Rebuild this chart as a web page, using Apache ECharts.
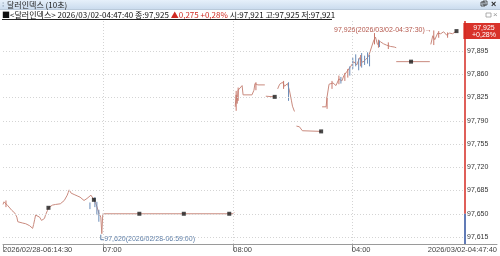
<!DOCTYPE html>
<html><head><meta charset="utf-8">
<script src="https://cdn.jsdelivr.net/npm/echarts@6/dist/echarts.min.js"></script>
<style>html,body{margin:0;padding:0;background:#fff}#c{width:500px;height:256px}</style>
</head><body><div id="c"></div>
<script>
// ---- data (x = bar index, price) ----
const mainIdx = [0,1,2,3,5,7,9,12,14,15,17,20,23,25,27,29,30,31,32,33,35,37,39,40,42,43,45,46,48,50,53,55,58,60,62,65,66,67,69,70,72,75,78,80,82,83,85,87,89,90,92,94,95,97,99,100,101,138,183,229,233,234,234,
 235,236,237,238,240,242,243,252,254,255,257,258,265,265,266,275,275,278,280,283,285,288,290,292,293,295,295,297,300,303,322,322,
 323,327,328,330,332,334,337,340,343,345,348,350,352,355,358,361,364,367,370,372,375,377,379,382,385,388,392,396,398,398,398,432,432,
 433,435,437,440,443,446,449,452,455,459];
const mainPrice = [97.664,97.668,97.667,97.669,97.662,97.659,97.655,97.651,97.645,97.638,97.637,97.636,97.635,97.634,97.632,97.630,97.628,97.634,97.641,97.648,97.649,97.645,97.640,97.638,97.643,97.648,97.655,97.659,97.662,97.663,97.664,97.666,97.665,97.668,97.670,97.678,97.682,97.686,97.681,97.678,97.679,97.677,97.675,97.673,97.670,97.668,97.673,97.676,97.678,97.677,97.671,97.665,97.661,97.651,97.645,97.620,97.650,97.650,97.650,97.650,97.650,97.652,null,
 97.811,97.829,97.816,97.836,97.839,97.843,97.829,97.829,97.836,97.846,97.845,97.844,97.844,null,97.827,97.826,null,97.838,97.845,97.848,97.842,97.846,97.835,97.820,97.812,97.804,null,97.782,97.781,97.775,97.774,null,
 97.811,97.811,97.826,97.845,97.842,97.847,97.843,97.853,97.850,97.858,97.864,97.862,97.872,97.879,97.874,97.885,97.878,97.882,97.887,97.884,97.910,97.916,97.905,97.909,97.906,97.904,97.902,97.901,97.900,null,97.879,97.879,null,
 97.905,97.918,97.912,97.922,97.921,97.924,97.919,97.922,97.921,97.925];
const markIdx = [46,92,138,183,229,275,322,413,459];
const markPrice = [97.659,97.671,97.650,97.650,97.650,97.826,97.774,97.879,97.925];
const blueWickIdx = [88,93,95,97,289,342,351,354,357,360,363,366,369,371,381];
const blueWickHigh = [97.667,97.675,97.668,97.656,97.848,97.856,97.872,97.885,97.890,97.884,97.892,97.888,97.893,97.889,97.911];
const blueWickLow = [97.657,97.660,97.648,97.638,97.820,97.846,97.858,97.868,97.872,97.866,97.870,97.874,97.876,97.872,97.901];
const redWickIdx = [3,236,238,256,284,328,333,340,346,349,362,376,380,390,436,441,450];
const redWickHigh = [97.670,97.835,97.840,97.848,97.850,97.826,97.850,97.858,97.862,97.868,97.889,97.922,97.912,97.908,97.926,97.925,97.923];
const redWickLow = [97.660,97.805,97.820,97.836,97.838,97.808,97.838,97.845,97.850,97.855,97.872,97.905,97.900,97.898,97.904,97.915,97.915];
const yTicks = [97.615,97.650,97.685,97.720,97.755,97.790,97.825,97.860,97.895];
const xTickIdx = [0,101,233,353,500];
const xTickLabels = ['2026/02/28-06:14:30','07:00','08:00','04:00','2026/03/02-04:47:40'];
const prevClose = 97.650;
const lastPrice = 97.925, changeAbs = 0.275, changePct = 0.28;
const openPrice = 97.921, highPrice = 97.925, lowPrice = 97.921;
const lastTime = '2026/03/02-04:47:40';
const hiIdx = 436, hiVal = 97.926, hiTime = '2026/03/02-04:37:30';
const loIdx = 100, loVal = 97.620, loTime = '2026/02/28-06:59:00';

// ---- chart ----
const Y_MIN = 97.6045, Y_MAX = 97.9402, PLOT_END = 467;
const fmt = v => v.toFixed(3).replace('.', ',');
const LAT = "'Liberation Sans', Arial, sans-serif";
const KR = "'Noto Sans CJK KR', sans-serif";
function wick(idx, hi, lo){const d=[];idx.forEach((x,i)=>{d.push([x,lo[i]],[x,hi[i]],[x,null]);});return d;}
const chart = echarts.init(document.getElementById('c'));
const gridLines = yTicks.map(v=>[{coord:[0,v],lineStyle:{color:'#d4d4d4',type:[1,2],width:1}},{coord:[PLOT_END,v]}])
 .concat(xTickIdx.slice(1,4).map(x=>[{coord:[x,Y_MIN],lineStyle:{color:'#d4d4d4',type:[1,2],width:1}},{coord:[x,Y_MAX]}]))
 .concat([[{coord:[PLOT_END,prevClose],lineStyle:{color:'#d42a22',type:'solid',width:1.5}},{coord:[PLOT_END,Y_MAX]}],
          [{coord:[PLOT_END,Y_MIN],lineStyle:{color:'#2c4f9e',type:'solid',width:1.5}},{coord:[PLOT_END,prevClose]}]]);
chart.setOption({
  animation:false,
  grid:{left:0,right:0,top:21,bottom:12},
  xAxis:{type:'value',min:0,max:500,
    axisLine:{lineStyle:{color:'#9a9a9a'}},
    axisTick:{show:true,customValues:[0,101,233,353],length:7,lineStyle:{color:'#9a9a9a'}},
    axisLabel:{customValues:xTickIdx,formatter:v=>xTickLabels[xTickIdx.indexOf(v)],align:'left',alignMaxLabel:'right',
      fontSize:7.5,color:'#444',margin:2,fontFamily:LAT},
    splitLine:{show:false}},
  yAxis:{type:'value',position:'right',offset:-33,min:Y_MIN,max:Y_MAX,
    axisLine:{show:false},axisTick:{show:false},splitLine:{show:false},
    axisLabel:{customValues:yTicks,formatter:v=>fmt(v),fontSize:7,color:'#333',margin:3,fontFamily:LAT}},
  series:[
    {type:'line',data:[[0,null]],symbol:'none',silent:true,z:1,
     markLine:{silent:true,symbol:'none',label:{show:false},animation:false,data:gridLines}},
    {type:'line',data:mainIdx.map((x,i)=>[x,mainPrice[i]]),symbol:'none',connectNulls:false,z:3,
     lineStyle:{color:'#c98a7e',width:1}},
    {type:'line',data:wick(redWickIdx,redWickHigh,redWickLow),symbol:'none',connectNulls:false,z:3,
     lineStyle:{color:'#c8776a',width:1}},
    {type:'line',data:wick(blueWickIdx,blueWickHigh,blueWickLow),symbol:'none',connectNulls:false,z:4,
     lineStyle:{color:'#6a8cb8',width:1}},
    {type:'scatter',data:markIdx.map((x,i)=>[x,markPrice[i]]),symbol:'rect',symbolSize:4,z:5,
     itemStyle:{color:'#1b1b1b'}}
  ]
});
const pLo = chart.convertToPixel({gridIndex:0},[loIdx,loVal]);
const pHi = chart.convertToPixel({gridIndex:0},[hiIdx,hiVal]);
const pLast = chart.convertToPixel({gridIndex:0},[PLOT_END,lastPrice]);
const hdrA = '■<달러인덱스> '+lastTime+' 종:'+fmt(lastPrice)+' ';
const hdrB = '▲'+fmt(changeAbs)+' +'+changePct.toFixed(2).replace('.',',')+'%';
const hdrC = ' 시:'+fmt(openPrice)+' 고:'+fmt(highPrice)+' 저:'+fmt(lowPrice);
chart.setOption({graphic:[
  {type:'rect',left:0,top:0,shape:{width:500,height:9},silent:true,
   style:{fill:new echarts.graphic.LinearGradient(0,0,0,1,[{offset:0,color:'#e6f0fa'},{offset:1,color:'#cbdcee'}])}},
  {type:'line',shape:{x1:0,y1:9.5,x2:500,y2:9.5},style:{stroke:'#b9c9da',lineWidth:1}},
  {type:'text',x:7,y:5,style:{text:'달러인덱스 (10초)',font:'8px '+KR,fill:'#222',verticalAlign:'middle'}},
  {type:'text',x:2,y:5,style:{text:'⁞',font:'8px '+LAT,fill:'#8899aa',verticalAlign:'middle'}},
  {type:'rect',shape:{x:481,y:2,width:4,height:4},style:{fill:'none',stroke:'#333',lineWidth:0.8}},
  {type:'rect',shape:{x:483,y:1,width:4,height:4},style:{fill:'none',stroke:'#333',lineWidth:0.8}},
  {type:'text',x:491,y:4.5,style:{text:'×',font:'bold 9px '+LAT,fill:'#222',verticalAlign:'middle'}},
  {type:'text',x:2,y:15,style:{text:'{a|'+hdrA+'}{b|'+hdrB+'}{a|'+hdrC+'}',verticalAlign:'middle',
     rich:{a:{font:'8px '+KR,fill:'#111'},b:{font:'8px '+KR,fill:'#d02a22'}}}},
  {type:'line',shape:{x1:2,y1:19.5,x2:332,y2:19.5},style:{stroke:'#222',lineWidth:1}},
  {type:'rect',shape:{x:486,y:13,width:5,height:4},style:{fill:'none',stroke:'#999',lineWidth:0.8}},
  {type:'text',x:493,y:15,style:{text:'×',font:'8px '+LAT,fill:'#999',verticalAlign:'middle'}},
  // low label
  {type:'polyline',shape:{points:[[pLo[0]-1,pLo[1]+1],[pLo[0]-1,pLo[1]+6],[pLo[0]+2,pLo[1]+6]]},style:{stroke:'#5b7ca6',lineWidth:1}},
  {type:'text',x:pLo[0]+2.5,y:pLo[1]+5.5,style:{text:fmt(loVal)+'('+loTime+')',font:'7px '+LAT,fill:'#5b7ca6',verticalAlign:'middle'}},
  // high label
  {type:'text',x:pHi[0]-2,y:pHi[1],style:{text:fmt(hiVal)+'('+hiTime+')→',font:'7px '+LAT,fill:'#b4574c',align:'right',verticalAlign:'middle'}},
  // last price tag
  {type:'polygon',shape:{points:[[pLast[0]-1,pLast[1]-8],[500,pLast[1]-8],[500,pLast[1]+8],[pLast[0]-1,pLast[1]+8]]},style:{fill:'#d8322a'}},
  {type:'text',x:484,y:pLast[1]-3.5,style:{text:fmt(lastPrice),font:'7px '+LAT,fill:'#fff',align:'center',verticalAlign:'middle'}},
  {type:'text',x:484,y:pLast[1]+3.5,style:{text:'+'+changePct.toFixed(2).replace('.',',')+'%',font:'7px '+LAT,fill:'#fff',align:'center',verticalAlign:'middle'}}
]});
</script></body></html>
